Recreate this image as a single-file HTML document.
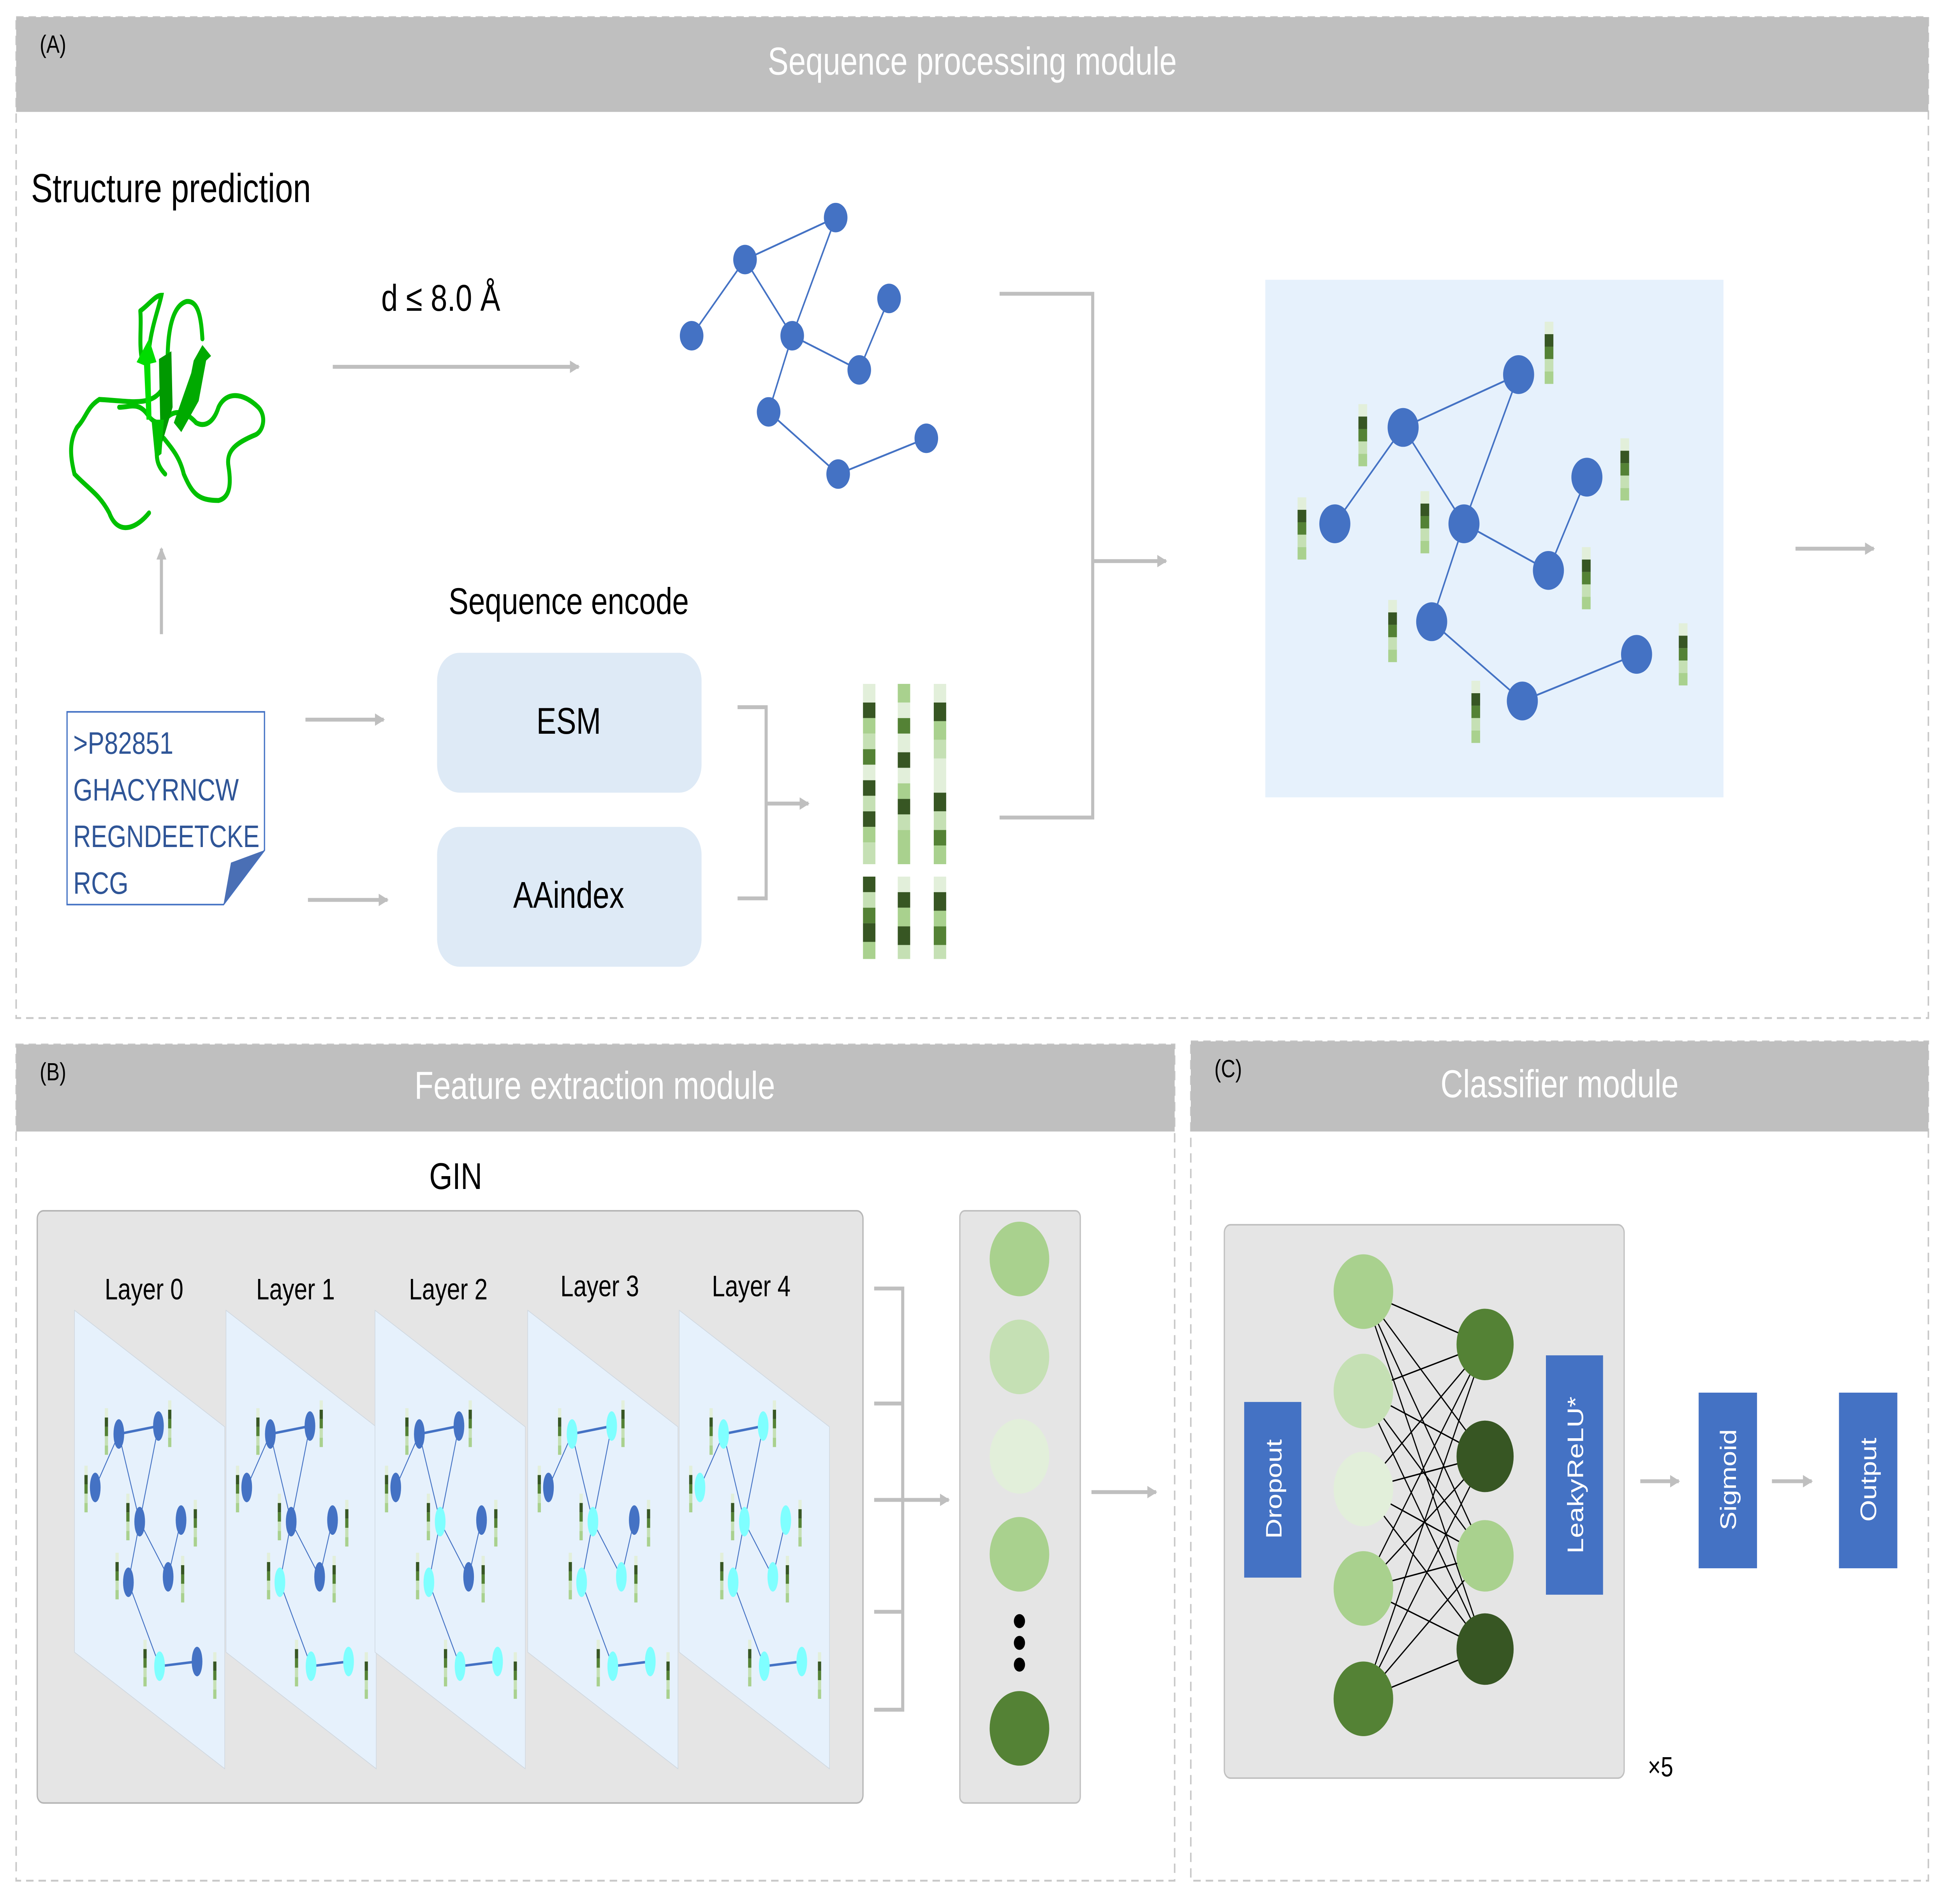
<!DOCTYPE html>
<html><head><meta charset="utf-8"><style>
html,body{margin:0;padding:0;background:#fff;width:100%;height:100%;overflow:hidden}
svg{display:block;position:fixed;left:0;top:0;width:100vw;height:100vh}
text{font-family:"Liberation Sans","DejaVu Sans",sans-serif}
</style></head><body>
<svg viewBox="0 0 1568 1225" preserveAspectRatio="none" xmlns="http://www.w3.org/2000/svg">
<defs>
<marker id="ar" markerWidth="8" markerHeight="8" refX="7" refY="4" orient="auto" markerUnits="userSpaceOnUse"><path d="M0,0 L8,4 L0,8 z" fill="#bfbfbf"/></marker>
<symbol id="mb" overflow="visible"><rect x="0" y="0" width="2.6" height="6" fill="#e2efda"/><rect x="0" y="6" width="2.6" height="6" fill="#375623"/><rect x="0" y="12" width="2.6" height="6" fill="#548235"/><rect x="0" y="18" width="2.6" height="6" fill="#c5e0b4"/><rect x="0" y="24" width="2.6" height="6" fill="#a9d18e"/></symbol>
<symbol id="bb" overflow="visible"><rect x="0" y="0" width="7" height="8" fill="#e2efda"/><rect x="0" y="8" width="7" height="8" fill="#375623"/><rect x="0" y="16" width="7" height="8" fill="#548235"/><rect x="0" y="24" width="7" height="8" fill="#c5e0b4"/><rect x="0" y="32" width="7" height="8" fill="#a9d18e"/></symbol>
<g id="mg">
<g stroke="#4472c4" stroke-width="0.7" fill="none">
<line x1="35.7" y1="79.6" x2="67.6" y2="74.5" stroke-width="1.6"/>
<line x1="35.7" y1="79.6" x2="16.7" y2="114"/>
<line x1="35.7" y1="79.6" x2="52.5" y2="136"/>
<line x1="67.6" y1="74.5" x2="52.5" y2="136"/>
<line x1="52.5" y1="136" x2="75.4" y2="171.5"/>
<line x1="75.4" y1="171.5" x2="85.8" y2="135"/>
<line x1="52.5" y1="136" x2="43.4" y2="175"/>
<line x1="43.4" y1="175" x2="68.5" y2="229"/>
<line x1="68.5" y1="229" x2="98.7" y2="226" stroke-width="1.6"/>
</g>
<use href="#mb" x="24.4" y="63"/><use href="#mb" x="75.4" y="58"/><use href="#mb" x="8" y="100"/><use href="#mb" x="41.7" y="118"/><use href="#mb" x="96" y="122"/><use href="#mb" x="33" y="156"/><use href="#mb" x="85.8" y="158"/><use href="#mb" x="55.5" y="212"/><use href="#mb" x="111.7" y="220"/>
</g>
</defs>

<!-- Panel A -->
<rect x="13" y="11" width="1540" height="644" fill="none" stroke="#c8c8c8" stroke-width="1.2" stroke-dasharray="6,4"/>
<rect x="13" y="11" width="1540" height="61" fill="#bfbfbf"/>
<text x="783" y="48" font-size="25" fill="#fff" text-anchor="middle">Sequence processing module</text>
<text x="32" y="34" font-size="16" fill="#000">(A)</text>
<text x="25" y="130" font-size="26" fill="#000">Structure prediction</text>

<!-- protein -->
<g fill="none" stroke="#00c000" stroke-width="3.2" stroke-linecap="round">
<path d="M131,250 C122,262 105,258 80,257 C70,262 70,268 62,275 C55,285 57,295 60,305 C72,315 80,318 88,330 C95,345 110,340 120,330"/>
<path d="M96,262 C105,262 112,258 120,268 C126,274 132,272 134,268"/>
<path d="M132,271 C140,262 150,265 158,272 C165,275 172,272 176,262 C182,252 195,252 208,262 C215,268 212,278 205,280 C190,285 182,290 184,300 C186,310 186,320 176,322 C160,322 155,318 148,305 C145,295 140,290 132,282"/>
<path d="M127,285 C125,295 127,300 133,305"/>
<path d="M113,200 C114,210 112,220 114,230 M113,200 C120,196 125,190 130,190 C128,198 122,210 120,225"/>
<path d="M135,232 C135,215 138,197 150,194 C160,193 162,205 163,218"/>
</g>
<g stroke="none">
<polygon points="116,235 110,233 120,218 126,233 121,234 122,270 118,270" fill="#00dd00"/>
<polygon points="128,231 138,226 139,262 128,292 126,278 129,270" fill="#009900"/>
<polygon points="156,232 163,222 170,229 166,232 160,258 146,278 140,272 154,240" fill="#00aa00"/>
<polygon points="122,270 132,270 130,292 125,295" fill="#00c000"/>
</g>

<line x1="268" y1="236" x2="466" y2="236" stroke="#bfbfbf" stroke-width="2.5" marker-end="url(#ar)"/>
<text x="307" y="200" font-size="24" fill="#000">d ≤ 8.0 Å</text>

<!-- small graph -->
<g stroke="#4472c4" stroke-width="1.2">
<line x1="600" y1="167" x2="673" y2="140"/><line x1="600" y1="167" x2="557" y2="216"/><line x1="600" y1="167" x2="638" y2="216"/><line x1="673" y1="140" x2="638" y2="216"/><line x1="638" y1="216" x2="692" y2="238"/><line x1="716" y1="192" x2="692" y2="238"/><line x1="638" y1="216" x2="619" y2="265"/><line x1="619" y1="265" x2="675" y2="305"/><line x1="675" y1="305" x2="746" y2="282"/>
</g>
<g fill="#4472c4"><circle cx="673" cy="140" r="9.5"/><circle cx="600" cy="167" r="9.5"/><circle cx="557" cy="216" r="9.5"/><circle cx="638" cy="216" r="9.5"/><circle cx="716" cy="192" r="9.5"/><circle cx="692" cy="238" r="9.5"/><circle cx="619" cy="265" r="9.5"/><circle cx="675" cy="305" r="9.5"/><circle cx="746" cy="282" r="9.5"/></g>

<line x1="130" y1="408" x2="130" y2="353" stroke="#bfbfbf" stroke-width="2.5" marker-end="url(#ar)"/>

<!-- document -->
<path d="M54,458 L213,458 L213,547 L180,582 L54,582 Z" fill="#fff" stroke="#4472c4" stroke-width="1"/>
<path d="M213,547 L180,582 L186,555 Z" fill="#4a6fb5"/>
<g font-size="20" fill="#2f5597"><text x="59" y="485">&gt;P82851</text><text x="59" y="515">GHACYRNCW</text><text x="59" y="545" textLength="150" lengthAdjust="spacingAndGlyphs">REGNDEETCKE</text><text x="59" y="575">RCG</text></g>

<line x1="246" y1="463" x2="309" y2="463" stroke="#bfbfbf" stroke-width="2.5" marker-end="url(#ar)"/>
<line x1="248" y1="579" x2="312" y2="579" stroke="#bfbfbf" stroke-width="2.5" marker-end="url(#ar)"/>
<text x="458" y="395" font-size="24" fill="#000" text-anchor="middle">Sequence encode</text>
<rect x="352" y="420" width="213" height="90" rx="18" fill="#deeaf6"/>
<rect x="352" y="532" width="213" height="90" rx="18" fill="#deeaf6"/>
<text x="458" y="472" font-size="24" fill="#000" text-anchor="middle">ESM</text>
<text x="458" y="584" font-size="24" fill="#000" text-anchor="middle">AAindex</text>
<path d="M594,455 L617,455 L617,578 L594,578" fill="none" stroke="#bfbfbf" stroke-width="2.5"/>
<line x1="617" y1="517" x2="651" y2="517" stroke="#bfbfbf" stroke-width="2.5" marker-end="url(#ar)"/>

<!-- feature columns -->
<g>
<g transform="translate(695,440)"><rect width="10" height="12" fill="#e2efda"/><rect y="12" width="10" height="10" fill="#375623"/><rect y="22" width="10" height="10" fill="#a9d18e"/><rect y="32" width="10" height="10" fill="#c5e0b4"/><rect y="42" width="10" height="10" fill="#548235"/><rect y="52" width="10" height="10" fill="#e2efda"/><rect y="62" width="10" height="10" fill="#375623"/><rect y="72" width="10" height="10" fill="#c5e0b4"/><rect y="82" width="10" height="10" fill="#375623"/><rect y="92" width="10" height="10" fill="#a9d18e"/><rect y="102" width="10" height="14" fill="#c5e0b4"/><rect y="124" width="10" height="10" fill="#375623"/><rect y="134" width="10" height="10" fill="#c5e0b4"/><rect y="144" width="10" height="10" fill="#548235"/><rect y="154" width="10" height="12" fill="#375623"/><rect y="166" width="10" height="11" fill="#a9d18e"/></g>
<g transform="translate(723,440)"><rect width="10" height="12" fill="#a9d18e"/><rect y="12" width="10" height="10" fill="#e2efda"/><rect y="22" width="10" height="10" fill="#548235"/><rect y="32" width="10" height="12" fill="#e2efda"/><rect y="44" width="10" height="10" fill="#375623"/><rect y="54" width="10" height="10" fill="#e2efda"/><rect y="64" width="10" height="10" fill="#a9d18e"/><rect y="74" width="10" height="10" fill="#375623"/><rect y="84" width="10" height="10" fill="#c5e0b4"/><rect y="94" width="10" height="22" fill="#a9d18e"/><rect y="124" width="10" height="10" fill="#e2efda"/><rect y="134" width="10" height="10" fill="#375623"/><rect y="144" width="10" height="12" fill="#a9d18e"/><rect y="156" width="10" height="12" fill="#375623"/><rect y="168" width="10" height="9" fill="#c5e0b4"/></g>
<g transform="translate(752,440)"><rect width="10" height="12" fill="#e2efda"/><rect y="12" width="10" height="12" fill="#375623"/><rect y="24" width="10" height="12" fill="#a9d18e"/><rect y="36" width="10" height="12" fill="#c5e0b4"/><rect y="48" width="10" height="12" fill="#e2efda"/><rect y="60" width="10" height="10" fill="#e2efda"/><rect y="70" width="10" height="12" fill="#375623"/><rect y="82" width="10" height="12" fill="#c5e0b4"/><rect y="94" width="10" height="10" fill="#548235"/><rect y="104" width="10" height="12" fill="#a9d18e"/><rect y="124" width="10" height="10" fill="#e2efda"/><rect y="134" width="10" height="12" fill="#375623"/><rect y="146" width="10" height="10" fill="#a9d18e"/><rect y="156" width="10" height="12" fill="#548235"/><rect y="168" width="10" height="9" fill="#c5e0b4"/></g>
</g>

<path d="M805,189 L880,189 L880,526 L805,526" fill="none" stroke="#bfbfbf" stroke-width="2.5"/>
<line x1="880" y1="361" x2="939" y2="361" stroke="#bfbfbf" stroke-width="2.5" marker-end="url(#ar)"/>

<!-- big graph -->
<rect x="1019" y="180" width="369" height="333" fill="#e6f1fc"/>
<g stroke="#4472c4" stroke-width="1.2">
<line x1="1130" y1="275" x2="1223" y2="241"/><line x1="1130" y1="275" x2="1075" y2="337"/><line x1="1130" y1="275" x2="1179" y2="337"/><line x1="1223" y1="241" x2="1179" y2="337"/><line x1="1179" y1="337" x2="1247" y2="367"/><line x1="1278" y1="307" x2="1247" y2="367"/><line x1="1179" y1="337" x2="1153" y2="400"/><line x1="1153" y1="400" x2="1226" y2="451"/><line x1="1226" y1="451" x2="1318" y2="421"/>
</g>
<use href="#bb" x="1244" y="207"/><use href="#bb" x="1094" y="260"/><use href="#bb" x="1045" y="320"/><use href="#bb" x="1144" y="316"/><use href="#bb" x="1305" y="282"/><use href="#bb" x="1274" y="352"/><use href="#bb" x="1118" y="386"/><use href="#bb" x="1185" y="438"/><use href="#bb" x="1352" y="401"/>
<g fill="#4472c4"><circle cx="1223" cy="241" r="12.5"/><circle cx="1130" cy="275" r="12.5"/><circle cx="1075" cy="337" r="12.5"/><circle cx="1179" cy="337" r="12.5"/><circle cx="1278" cy="307" r="12.5"/><circle cx="1247" cy="367" r="12.5"/><circle cx="1153" cy="400" r="12.5"/><circle cx="1226" cy="451" r="12.5"/><circle cx="1318" cy="421" r="12.5"/></g>
<line x1="1446" y1="353" x2="1509" y2="353" stroke="#bfbfbf" stroke-width="2.5" marker-end="url(#ar)"/>

<!-- Panel B -->
<rect x="13" y="672" width="933" height="538" fill="none" stroke="#c8c8c8" stroke-width="1.2" stroke-dasharray="6,4"/>
<rect x="13" y="672" width="933" height="56" fill="#bfbfbf"/>
<text x="479" y="707" font-size="25" fill="#fff" text-anchor="middle">Feature extraction module</text>
<text x="32" y="695" font-size="16" fill="#000">(B)</text>
<text x="367" y="765" font-size="24" fill="#000" text-anchor="middle">GIN</text>
<rect x="30" y="779" width="665" height="381" rx="5" fill="#e5e5e5" stroke="#b5b5b5" stroke-width="1"/>
<g font-size="19" fill="#000" text-anchor="middle"><text x="116" y="836">Layer 0</text><text x="238" y="836">Layer 1</text><text x="361" y="836">Layer 2</text><text x="483" y="834">Layer 3</text><text x="605" y="834">Layer 4</text></g>

<g transform="translate(60,843)">
<path d="M0,0 L121,75 L121,295 L0,220 Z" fill="#e6f1fc" stroke="#d0d8e0" stroke-width="0.5"/>
<use href="#mg"/>
<g fill="#4472c4"><ellipse cx="35.7" cy="79.6" rx="4.3" ry="9.5"/><ellipse cx="67.6" cy="74.5" rx="4.3" ry="9.5"/><ellipse cx="16.7" cy="114" rx="4.3" ry="9.5"/><ellipse cx="52.5" cy="136" rx="4.3" ry="9.5"/><ellipse cx="85.8" cy="135" rx="4.3" ry="9.5"/><ellipse cx="43.4" cy="175" rx="4.3" ry="9.5"/><ellipse cx="75.4" cy="171.5" rx="4.3" ry="9.5"/><ellipse cx="68.5" cy="229" rx="4.3" ry="9.5" fill="#7fffff"/><ellipse cx="98.7" cy="226" rx="4.3" ry="9.5"/></g>
</g>
<g transform="translate(182,843)">
<path d="M0,0 L121,75 L121,295 L0,220 Z" fill="#e6f1fc" stroke="#d0d8e0" stroke-width="0.5"/>
<use href="#mg"/>
<g fill="#4472c4"><ellipse cx="35.7" cy="79.6" rx="4.3" ry="9.5"/><ellipse cx="67.6" cy="74.5" rx="4.3" ry="9.5"/><ellipse cx="16.7" cy="114" rx="4.3" ry="9.5"/><ellipse cx="52.5" cy="136" rx="4.3" ry="9.5"/><ellipse cx="85.8" cy="135" rx="4.3" ry="9.5"/><ellipse cx="43.4" cy="175" rx="4.3" ry="9.5" fill="#7fffff"/><ellipse cx="75.4" cy="171.5" rx="4.3" ry="9.5"/><ellipse cx="68.5" cy="229" rx="4.3" ry="9.5" fill="#7fffff"/><ellipse cx="98.7" cy="226" rx="4.3" ry="9.5" fill="#7fffff"/></g>
</g>
<g transform="translate(302,843)">
<path d="M0,0 L121,75 L121,295 L0,220 Z" fill="#e6f1fc" stroke="#d0d8e0" stroke-width="0.5"/>
<use href="#mg"/>
<g fill="#4472c4"><ellipse cx="35.7" cy="79.6" rx="4.3" ry="9.5"/><ellipse cx="67.6" cy="74.5" rx="4.3" ry="9.5"/><ellipse cx="16.7" cy="114" rx="4.3" ry="9.5"/><ellipse cx="52.5" cy="136" rx="4.3" ry="9.5" fill="#7fffff"/><ellipse cx="85.8" cy="135" rx="4.3" ry="9.5"/><ellipse cx="43.4" cy="175" rx="4.3" ry="9.5" fill="#7fffff"/><ellipse cx="75.4" cy="171.5" rx="4.3" ry="9.5"/><ellipse cx="68.5" cy="229" rx="4.3" ry="9.5" fill="#7fffff"/><ellipse cx="98.7" cy="226" rx="4.3" ry="9.5" fill="#7fffff"/></g>
</g>
<g transform="translate(425,843)">
<path d="M0,0 L121,75 L121,295 L0,220 Z" fill="#e6f1fc" stroke="#d0d8e0" stroke-width="0.5"/>
<use href="#mg"/>
<g fill="#7fffff"><ellipse cx="35.7" cy="79.6" rx="4.3" ry="9.5"/><ellipse cx="67.6" cy="74.5" rx="4.3" ry="9.5"/><ellipse cx="16.7" cy="114" rx="4.3" ry="9.5" fill="#4472c4"/><ellipse cx="52.5" cy="136" rx="4.3" ry="9.5"/><ellipse cx="85.8" cy="135" rx="4.3" ry="9.5" fill="#4472c4"/><ellipse cx="43.4" cy="175" rx="4.3" ry="9.5"/><ellipse cx="75.4" cy="171.5" rx="4.3" ry="9.5"/><ellipse cx="68.5" cy="229" rx="4.3" ry="9.5"/><ellipse cx="98.7" cy="226" rx="4.3" ry="9.5"/></g>
</g>
<g transform="translate(547,843)">
<path d="M0,0 L121,75 L121,295 L0,220 Z" fill="#e6f1fc" stroke="#d0d8e0" stroke-width="0.5"/>
<use href="#mg"/>
<g fill="#7fffff"><ellipse cx="35.7" cy="79.6" rx="4.3" ry="9.5"/><ellipse cx="67.6" cy="74.5" rx="4.3" ry="9.5"/><ellipse cx="16.7" cy="114" rx="4.3" ry="9.5"/><ellipse cx="52.5" cy="136" rx="4.3" ry="9.5"/><ellipse cx="85.8" cy="135" rx="4.3" ry="9.5"/><ellipse cx="43.4" cy="175" rx="4.3" ry="9.5"/><ellipse cx="75.4" cy="171.5" rx="4.3" ry="9.5"/><ellipse cx="68.5" cy="229" rx="4.3" ry="9.5"/><ellipse cx="98.7" cy="226" rx="4.3" ry="9.5"/></g>
</g>

<path d="M704,829 L727,829 L727,1100 L704,1100 M704,903 L727,903 M704,1037 L727,1037 M704,965 L727,965" fill="none" stroke="#bfbfbf" stroke-width="2.5"/>
<line x1="727" y1="965" x2="764" y2="965" stroke="#bfbfbf" stroke-width="2.5" marker-end="url(#ar)"/>
<rect x="773" y="779" width="97" height="381" rx="4" fill="#e5e5e5" stroke="#c0c0c0" stroke-width="1"/>
<circle cx="821" cy="810" r="24" fill="#a9d18e"/><circle cx="821" cy="873" r="24" fill="#c5e0b4"/><circle cx="821" cy="937" r="24" fill="#e2efda"/><circle cx="821" cy="1000" r="24" fill="#a9d18e"/>
<circle cx="821" cy="1043" r="4.5" fill="#000"/><circle cx="821" cy="1057" r="4.5" fill="#000"/><circle cx="821" cy="1071" r="4.5" fill="#000"/>
<circle cx="821" cy="1112" r="24" fill="#548235"/>
<line x1="879" y1="960" x2="931" y2="960" stroke="#bfbfbf" stroke-width="2.5" marker-end="url(#ar)"/>

<!-- Panel C -->
<rect x="959" y="670" width="594" height="540" fill="none" stroke="#c8c8c8" stroke-width="1.2" stroke-dasharray="6,4"/>
<rect x="959" y="670" width="594" height="58" fill="#bfbfbf"/>
<text x="1256" y="706" font-size="25" fill="#fff" text-anchor="middle">Classifier module</text>
<text x="978" y="693" font-size="16" fill="#000">(C)</text>
<rect x="986" y="788" width="322" height="356" rx="5" fill="#e5e5e5" stroke="#c0c0c0" stroke-width="1"/>
<rect x="1002" y="902" width="46" height="113" fill="#4472c4"/>
<text transform="translate(1032,958) rotate(-90)" font-size="18" fill="#fff" text-anchor="middle">Dropout</text>
<g stroke="#000" stroke-width="0.9">
<line x1="1098" y1="831" x2="1196" y2="865"/><line x1="1098" y1="831" x2="1196" y2="937"/><line x1="1098" y1="831" x2="1196" y2="1001"/><line x1="1098" y1="831" x2="1196" y2="1061"/>
<line x1="1098" y1="895" x2="1196" y2="865"/><line x1="1098" y1="895" x2="1196" y2="937"/><line x1="1098" y1="895" x2="1196" y2="1001"/><line x1="1098" y1="895" x2="1196" y2="1061"/>
<line x1="1098" y1="958" x2="1196" y2="865"/><line x1="1098" y1="958" x2="1196" y2="937"/><line x1="1098" y1="958" x2="1196" y2="1001"/><line x1="1098" y1="958" x2="1196" y2="1061"/>
<line x1="1098" y1="1022" x2="1196" y2="865"/><line x1="1098" y1="1022" x2="1196" y2="937"/><line x1="1098" y1="1022" x2="1196" y2="1001"/><line x1="1098" y1="1022" x2="1196" y2="1061"/>
<line x1="1098" y1="1093" x2="1196" y2="865"/><line x1="1098" y1="1093" x2="1196" y2="937"/><line x1="1098" y1="1093" x2="1196" y2="1001"/><line x1="1098" y1="1093" x2="1196" y2="1061"/>
</g>
<circle cx="1098" cy="831" r="24" fill="#a9d18e"/><circle cx="1098" cy="895" r="24" fill="#c5e0b4"/><circle cx="1098" cy="958" r="24" fill="#e2efda"/><circle cx="1098" cy="1022" r="24" fill="#a9d18e"/><circle cx="1098" cy="1093" r="24" fill="#548235"/>
<circle cx="1196" cy="865" r="23" fill="#548235"/><circle cx="1196" cy="937" r="23" fill="#375623"/><circle cx="1196" cy="1001" r="23" fill="#a9d18e"/><circle cx="1196" cy="1061" r="23" fill="#375623"/>
<rect x="1245" y="872" width="46" height="154" fill="#4472c4"/>
<text transform="translate(1275,949) rotate(-90)" font-size="18" fill="#fff" text-anchor="middle">LeakyReLU*</text>
<line x1="1321" y1="953" x2="1352" y2="953" stroke="#bfbfbf" stroke-width="2.5" marker-end="url(#ar)"/>
<rect x="1368" y="896" width="47" height="113" fill="#4472c4"/>
<text transform="translate(1398,952) rotate(-90)" font-size="18" fill="#fff" text-anchor="middle">Sigmoid</text>
<line x1="1427" y1="953" x2="1459" y2="953" stroke="#bfbfbf" stroke-width="2.5" marker-end="url(#ar)"/>
<rect x="1481" y="896" width="47" height="113" fill="#4472c4"/>
<text transform="translate(1511,952) rotate(-90)" font-size="18" fill="#fff" text-anchor="middle">Output</text>
<text x="1327" y="1143" font-size="18" fill="#000">×5</text>
</svg>
</body></html>
